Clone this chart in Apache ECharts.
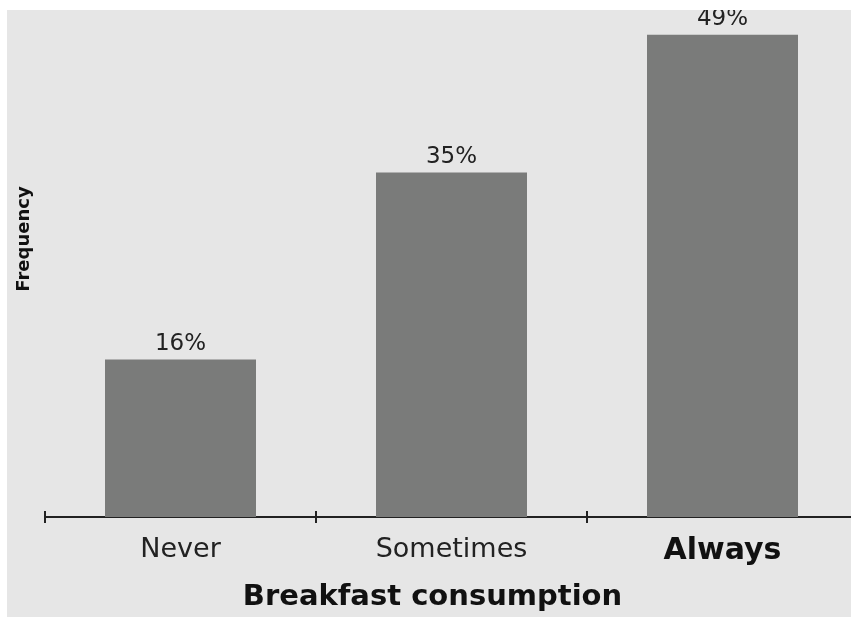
<!DOCTYPE html>
<html>
<head>
<meta charset="utf-8">
<script src="https://cdn.jsdelivr.net/npm/echarts@6/dist/echarts.min.js"></script>
<style>
html,body{margin:0;padding:0;background:#ffffff;width:851px;height:617px;overflow:hidden;}
#chart{position:absolute;left:7px;top:10px;width:870px;height:607px;}
</style>
</head>
<body>
<div id="chart"></div>
<script>
const categories = ['Never', 'Sometimes', 'Always'];
const values = [16, 35, 49];
const xAxisTitle = 'Breakfast consumption';
const yAxisTitle = 'Frequency';

const chart = echarts.init(document.getElementById('chart'));
const catData = categories.map(function (c) {
  if (c === 'Always') {
    return { value: c, textStyle: { fontWeight: 'bold', fontSize: 30, color: '#111' } };
  }
  return c;
});
chart.setOption({
  backgroundColor: '#e6e6e6',
  animation: false,
  grid: { left: 38, top: 15, bottom: 99, width: 813 },
  xAxis: [{
    type: 'category',
    data: catData,
    position: 'bottom',
    axisLine: { show: true, lineStyle: { color: '#222', width: 2 } },
    axisTick: { show: true, length: 6, lineStyle: { color: '#222', width: 2 } },
    axisLabel: { margin: 19, fontFamily: 'DejaVu Sans', fontSize: 27, color: '#222' },
    name: xAxisTitle,
    nameLocation: 'middle',
    nameGap: 66,
    nameTextStyle: { fontFamily: 'DejaVu Sans', fontWeight: 'bold', fontSize: 29, color: '#111', padding: [0, 38, 0, 0] }
  }, {
    type: 'category',
    data: categories,
    position: 'bottom',
    axisLine: { show: false },
    axisTick: { show: true, inside: true, length: 6, lineStyle: { color: '#222', width: 2 } },
    axisLabel: { show: false }
  }],
  yAxis: {
    type: 'value',
    min: 0,
    max: 50,
    axisLine: { show: false },
    axisTick: { show: false },
    axisLabel: { show: false },
    splitLine: { show: false },
    name: yAxisTitle,
    nameLocation: 'middle',
    nameGap: 12,
    nameTextStyle: { fontFamily: 'DejaVu Sans', fontWeight: 'bold', fontSize: 18, color: '#111', padding: [0, 0, 0, 64] }
  },
  series: [{
    type: 'bar',
    xAxisIndex: 0,
    data: values,
    barWidth: 151,
    itemStyle: { color: '#7a7b7a' },
    label: {
      show: true,
      position: 'top',
      distance: 4,
      formatter: '{c}%',
      fontFamily: 'DejaVu Sans',
      fontSize: 23,
      color: '#222'
    }
  }]
});
</script>
</body>
</html>
